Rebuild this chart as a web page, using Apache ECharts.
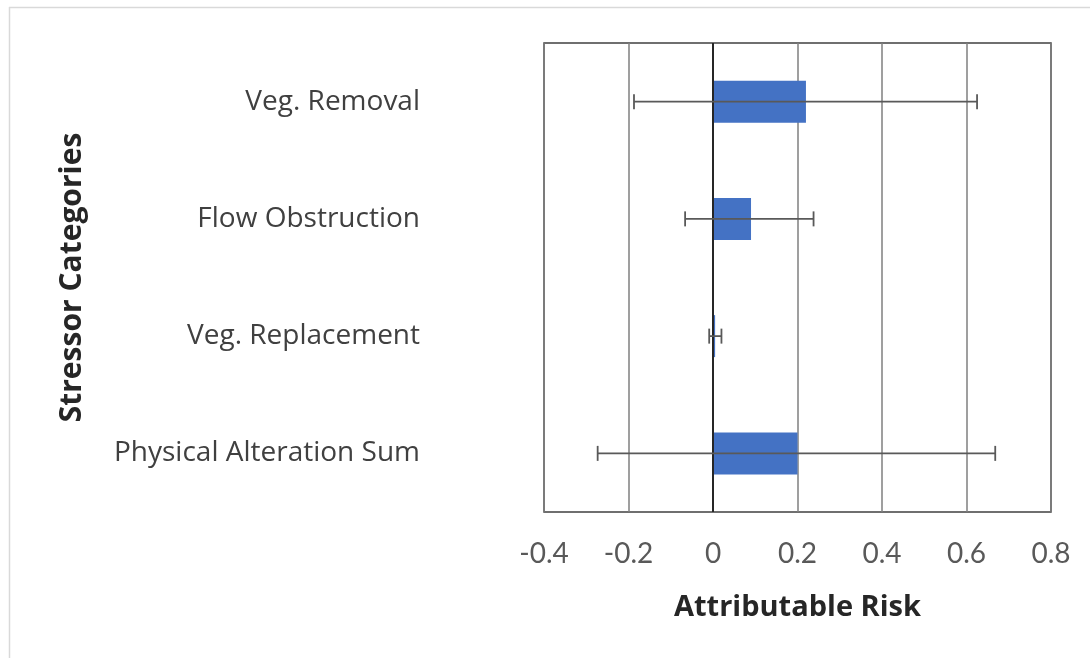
<!DOCTYPE html>
<html>
<head>
<meta charset="utf-8">
<script src="https://cdn.jsdelivr.net/npm/echarts@6/dist/echarts.min.js"></script>
<style>html,body{margin:0;padding:0;background:#fff;}#c{width:1090px;height:658px;}</style>
</head>
<body>
<div id="c"></div>
<script>
const categories = ['Veg. Removal', 'Flow Obstruction', 'Veg. Replacement', 'Physical Alteration Sum'];
const values = [0.22, 0.09, 0.005, 0.2];
const errLow = [-0.187, -0.066, -0.009, -0.273];
const errHigh = [0.625, 0.238, 0.02, 0.668];
const xTicks = [-0.4, -0.2, 0, 0.2, 0.4, 0.6, 0.8];

const errData = categories.map((c, i) => [i, errLow[i], errHigh[i]]);

const chart = echarts.init(document.getElementById('c'));
chart.setOption({
  animation: false,
  backgroundColor: '#fff',
  graphic: [
    { type: 'line', shape: { x1: 9, y1: 7.5, x2: 1090, y2: 7.5 }, style: { stroke: '#d9d9d9', lineWidth: 1.5 } },
    { type: 'line', shape: { x1: 9.5, y1: 7, x2: 9.5, y2: 658 }, style: { stroke: '#d9d9d9', lineWidth: 1.5 } }
  ],
  grid: { left: 544, right: 39, top: 43, bottom: 146, show: true, borderColor: '#404040', borderWidth: 1.5, containLabel: false },
  xAxis: {
    type: 'value', min: xTicks[0], max: xTicks[xTicks.length - 1], interval: 0.2,
    axisLine: { show: false }, axisTick: { show: false },
    splitLine: { show: true, lineStyle: { color: '#7f7f7f', width: 1.5 } },
    axisLabel: { fontFamily: 'Lato', fontSize: 28, color: '#595959', margin: 28,
      formatter: v => { const r = Math.round(v * 10) / 10; return r === 0 ? '0' : String(r); } },
    name: 'Attributable Risk', nameLocation: 'middle', nameGap: 81,
    nameTextStyle: { fontFamily: 'Open Sans', fontWeight: 'bold', fontSize: 29, color: '#262626' }
  },
  yAxis: {
    type: 'category', data: categories, inverse: true,
    axisLine: { show: false, onZero: false }, axisTick: { show: false },
    axisLabel: { fontFamily: 'Open Sans', fontSize: 28, color: '#404040', margin: 124 },
    name: 'Stressor Categories', nameLocation: 'middle', nameGap: 457, nameRotate: 90,
    nameTextStyle: { fontFamily: 'Open Sans', fontWeight: 'bold', fontSize: 30, color: '#262626' }
  },
  series: [
    {
      type: 'bar', data: values, barWidth: 42,
      itemStyle: { color: '#4472C4' },
      markLine: { silent: true, symbol: 'none', label: { show: false },
        lineStyle: { color: '#262626', width: 2, type: 'solid' }, data: [{ xAxis: 0 }] }
    },
    {
      type: 'custom', data: errData, z: 5,
      renderItem: (params, api) => {
        const ci = api.value(0);
        const lo = api.coord([api.value(1), ci]);
        const hi = api.coord([api.value(2), ci]);
        const h = 7.5;
        const st = { stroke: '#595959', lineWidth: 1.8 };
        return { type: 'group', children: [
          { type: 'line', shape: { x1: lo[0], y1: lo[1], x2: hi[0], y2: hi[1] }, style: st },
          { type: 'line', shape: { x1: lo[0], y1: lo[1] - h, x2: lo[0], y2: lo[1] + h }, style: st },
          { type: 'line', shape: { x1: hi[0], y1: hi[1] - h, x2: hi[0], y2: hi[1] + h }, style: st }
        ]};
      },
      encode: { x: [1, 2], y: 0 }
    }
  ]
});
</script>
</body>
</html>
